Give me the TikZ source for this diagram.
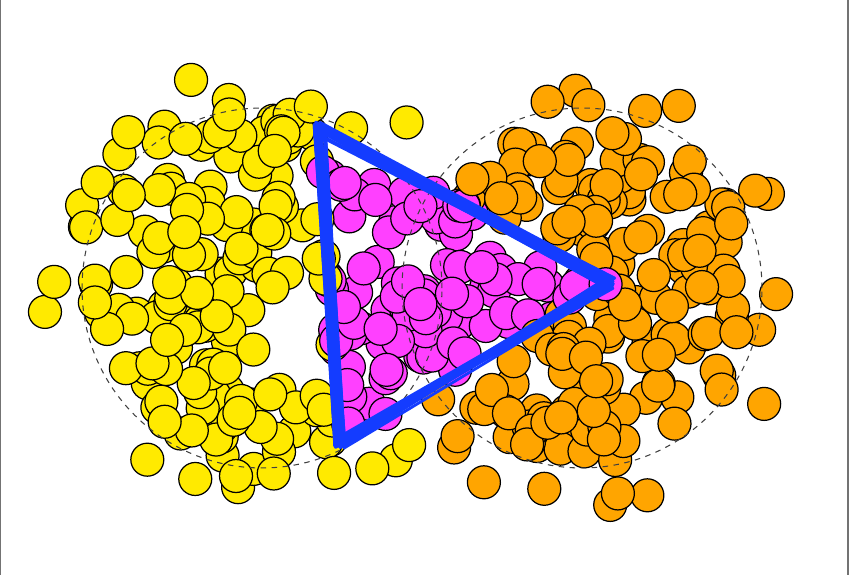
\documentclass[tikz,border=0pt]{standalone}
\usetikzlibrary{calc}
\definecolor{ball1}{RGB}{255,165,0}
\definecolor{ball0}{RGB}{255,234,0}
\definecolor{ball2}{RGB}{255,64,255}
\definecolor{triblue}{RGB}{20,60,255}
\tikzset{
  ballstyle/.style={draw=black,line width=0.7pt},
  dashring/.style={draw=black!75,line width=0.6pt,dash pattern=on 0.11cm off 0.11cm},
  tristroke/.style={draw=triblue,line width=1.6pt,line cap=round,line join=round},
  frameline/.style={draw=black!55,line width=0.6pt}
}
\begin{document}
\begin{tikzpicture}[x=0.02cm,y=-0.02cm]
\useasboundingbox (0,0) rectangle (849,575);
\fill[white] (0,0) rectangle (849,575);
\coordinate (A) at (320,128);
\coordinate (B) at (612,283);
\coordinate (C) at (340,446);
\pgfmathsetseed{20240}
\foreach \i in {1,...,430}{
  \pgfmathsetmacro\cx{mod(\i,2)==0 ? 262 : 582}
  \pgfmathsetmacro\rr{rnd}
  \pgfmathsetmacro\uu{rnd}
  \pgfmathsetmacro\rad{\rr<0.88 ? 168*sqrt(\uu) : 165+55*\uu}
  \pgfmathsetmacro\ang{360*rnd}
  \pgfmathsetmacro\px{\cx+\rad*cos(\ang)}
  \pgfmathsetmacro\py{288+\rad*sin(\ang)}
  \pgfmathsetmacro\sa{2.92*((\py-128)/100)-1.55*((\px-320)/100)}
  \pgfmathsetmacro\sb{(-2.72)*((\py-283)/100)-1.63*((\px-612)/100)}
  \pgfmathsetmacro\sc{(-0.20)*((\py-446)/100)-(-3.18)*((\px-340)/100)}
  \pgfmathtruncatemacro\ins{(\sa>0)*(\sb>0)*(\sc>0)+(\sa<0)*(\sb<0)*(\sc<0)}
  \pgfmathtruncatemacro\col{\ins>0 ? 2 : mod(\i,2)}
  \fill[ballstyle,fill=ball\col] (\px,\py) circle[radius=0.33cm];
}
\draw[dashring] (262,288) circle[radius=3.6cm];
\draw[dashring] (582,288) circle[radius=3.6cm];
\foreach \k in {1,...,24}{
  \pgfmathsetmacro\ax{12*rnd-6}\pgfmathsetmacro\ay{12*rnd-6}
  \pgfmathsetmacro\bx{12*rnd-9}\pgfmathsetmacro\by{12*rnd-6}
  \pgfmathsetmacro\qx{12*rnd-6}\pgfmathsetmacro\qy{12*rnd-8}
  \draw[tristroke] ($(A)+(\ax,\ay)$) -- ($(B)+(\bx,\by)$) -- ($(C)+(\qx,\qy)$) -- cycle;
}
\draw[frameline] (0.5,0) -- (0.5,575);
\draw[frameline] (848,0) -- (848,575);
\end{tikzpicture}
\end{document}
